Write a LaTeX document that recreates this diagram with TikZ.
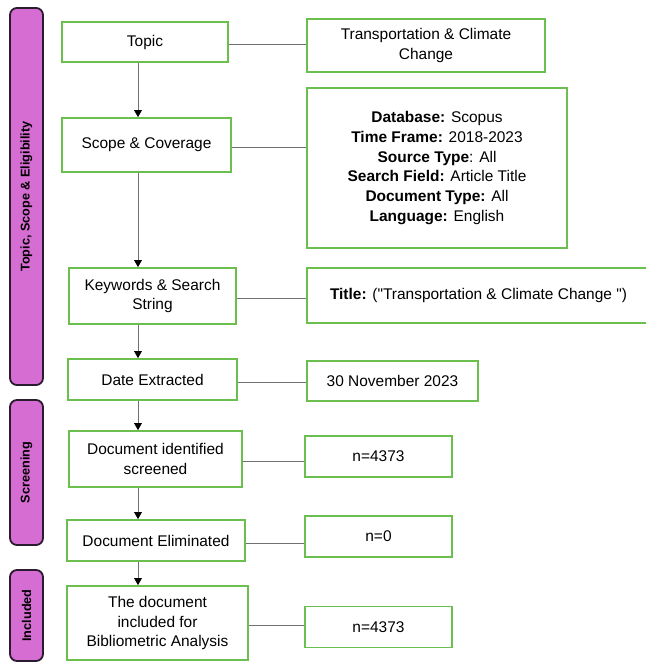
\documentclass[tikz,border=0pt]{standalone}
\usepackage{fontspec}
\setmainfont{Liberation Sans}[Ligatures=TeXOff]
\usepackage{tikz}
\usetikzlibrary{arrows.meta}
\definecolor{boxgreen}{HTML}{6BBF4E}
\definecolor{barpink}{HTML}{D66DD2}
\definecolor{bardark}{HTML}{2B1B2E}
\definecolor{linegray}{HTML}{707070}

\begin{document}
\begin{tikzpicture}[y=-.025cm, x=.025cm,
    box/.style={draw=boxgreen, line width=1.2pt, align=center, inner sep=2pt,
        font=\fontsize{11}{14}\selectfont},
    bar/.style={draw=bardark, fill=barpink, line width=1.3pt, rounded corners=5pt,
        rotate=90, minimum height=.825cm, inner sep=0pt,
        font=\fontsize{9}{11}\selectfont\bfseries},
    link/.style={draw=linegray, line width=.6pt},
    arr/.style={link, -{Triangle[width=5.5pt,length=5pt,color=black]}}]
    \path[use as bounding box, clip] (0,0) rectangle (646,665);

    \node[bar, minimum width=9.425cm] (tse) at (26.5,196.5) {Topic, Scope \& Eligibility};
    \node[bar, minimum width=3.625cm] (scr) at (26.5,472.5) {Screening};
    \node[bar, minimum width=2.275cm] (inc) at (26.5,615.5) {Included};

    \node[box, minimum width=4.15cm, minimum height=1cm] (topic) at (145,42) {Topic};
    \node[box, minimum width=4.225cm, minimum height=1.35cm] (scope) at (146.5,145) {Scope \& Coverage};
    \node[box, minimum width=4.175cm, minimum height=1.4cm] (keys) at (152.5,296) {Keywords \& Search\\String};
    \node[box, minimum width=4.225cm, minimum height=1.025cm] (date) at (152.5,379.5) {Date Extracted};
    \node[box, minimum width=4.325cm, minimum height=1.4cm] (ident) at (155.5,459) {Document identified\\screened};
    \node[box, minimum width=4.45cm, minimum height=1.025cm] (elim) at (156,540.5) {Document Eliminated};
    \node[box, minimum width=4.525cm, minimum height=1.85cm] (incl) at (157.5,623) {The document\\included for\\Bibliometric Analysis};

    \node[box, minimum width=5.95cm, minimum height=1.325cm] (trans) at (426,45.5) {Transportation \& Climate\\Change};
    \node[box, minimum width=6.5cm, minimum height=4cm] (db) at (437,168) {\textbf{Database:} Scopus\\
        \textbf{Time Frame:} 2018-2023\\
        \textbf{Source Type}: All\\
        \textbf{Search Field:} Article Title\\
        \textbf{Document Type:} All\\
        \textbf{Language:} English};
    \node[box, minimum width=8.575cm, minimum height=1.375cm] (title) at (478.5,295.5) {\textbf{Title:} ("Transportation \& Climate Change ")};
    \node[box, minimum width=4.275cm, minimum height=1cm] (nov) at (392.5,381) {30 November 2023};
    \node[box, minimum width=3.675cm, minimum height=1.025cm] (nid) at (378.5,456.5) {n=4373};
    \node[box, minimum width=3.675cm, minimum height=1.025cm] (nelim) at (378.5,536.5) {n=0};
    \node[box, minimum width=3.675cm, minimum height=1.025cm] (nincl) at (378.5,627) {n=4373};

    \coordinate (spine) at (138,0);
    \foreach \a/\b in {topic/scope,scope/keys,keys/date,date/ident,ident/elim,elim/incl}
        \draw[arr] (\a.south -| spine) -- (\b.north -| spine);
    \foreach \a/\b in {topic/trans,scope/db,keys/title,date/nov,ident/nid,elim/nelim,incl/nincl}
        \draw[link] ([yshift=-2pt]\a.east) -- ([yshift=-2pt]\a.east -| \b.west);
\end{tikzpicture}
\end{document}
